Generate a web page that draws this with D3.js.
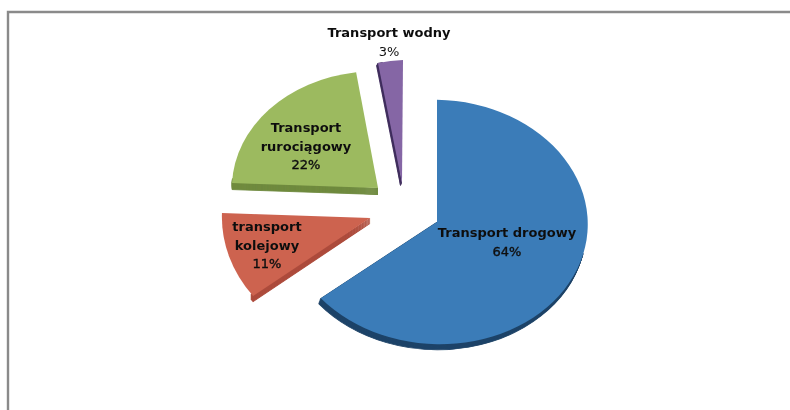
<!DOCTYPE html>
<html><head><meta charset="utf-8">
<script src="https://cdn.jsdelivr.net/npm/d3@7"></script>
<style>html,body{margin:0;padding:0;background:#fff}svg{display:block}</style>
</head><body><svg id="c" width="790" height="410"></svg>
<script>
const categories = ["Transport drogowy","transport kolejowy","Transport rurociągowy","Transport wodny"];
const values = [64,11,22,3];
const labelLines = [["Transport drogowy"],["transport","kolejowy"],["Transport","rurociągowy"],["Transport wodny"]];
const topColors = ["#3a7cb8","#cd6350","#9cba5f","#8566a5"];
const sideColors = ["#1f4468","#ad4c3c","#6f8a3f","#3f2d5c"];
const centers = [[437,222],[370,218],[378,188],[402,183]];
const warps = [[1.005,0.015,0,0.815],[0.987,0.033,-0.03,0.856],[0.973,0.033,-0.037,0.78],[0.889,-0.03,-0.0067,0.82]];
const depths = [6,6,7,3];
const shifts = [-0.35,0,0,-0.5];
const sideSpans = [[0.45,1],[0,0.03],[0,0.03],[0,0.2]];
const labelPos = [[507,237],[267,231],[306,132],[389,37]];
const rx = 150;

const svg = d3.select("#c");
const defs = svg.append("defs");
defs.append("filter").attr("id","soft").append("feGaussianBlur").attr("stdDeviation",0.5);
defs.append("filter").attr("id","softT").append("feGaussianBlur").attr("stdDeviation",0.35);

svg.append("path").attr("d","M8 410V12H790").attr("fill","none").attr("stroke","#8a8a8a").attr("stroke-width",2.4);

const pie = d3.pie().sort(null)(values);
const arc = d3.arc().innerRadius(0).outerRadius(rx);
const g = svg.append("g").attr("filter","url(#soft)");
pie.forEach((d,i)=>{
  const [cx,cy]=centers[i], [a,b,c,e]=warps[i];
  const span = d.endAngle-d.startAngle;
  const side = {startAngle:d.startAngle+span*sideSpans[i][0], endAngle:d.startAngle+span*sideSpans[i][1]};
  d3.range(depths[i],0,-1).forEach(k=>{
    g.append("path").attr("d",arc(side)).attr("fill",sideColors[i])
      .attr("stroke",sideColors[i]).attr("stroke-width",1)
      .attr("transform",`matrix(${a},${b},${c},${e},${cx+k*shifts[i]},${cy+k-0.5})`);
  });
  g.append("path").attr("d",arc(d)).attr("fill",topColors[i])
    .attr("transform",`matrix(${a},${b},${c},${e},${cx},${cy})`);
});
const tg = svg.append("g").attr("filter","url(#softT)")
  .attr("font-family","'DejaVu Sans',sans-serif").attr("font-size",13).attr("text-anchor","middle").attr("fill","#111");
categories.forEach((c,i)=>{
  const lines = labelLines[i].concat(values[i]+"%");
  const t = tg.append("text").attr("x",labelPos[i][0]).attr("y",labelPos[i][1]);
  lines.forEach((l,j)=>{
    const pct = j===lines.length-1;
    t.append("tspan").attr("x",labelPos[i][0]).attr("dy",j?18.5:0)
      .attr("font-weight", pct?"normal":"bold")
      .attr("stroke", pct&&i!==3?"#111":"none").attr("stroke-width",0.4).text(l);
  });
});
</script></body></html>
